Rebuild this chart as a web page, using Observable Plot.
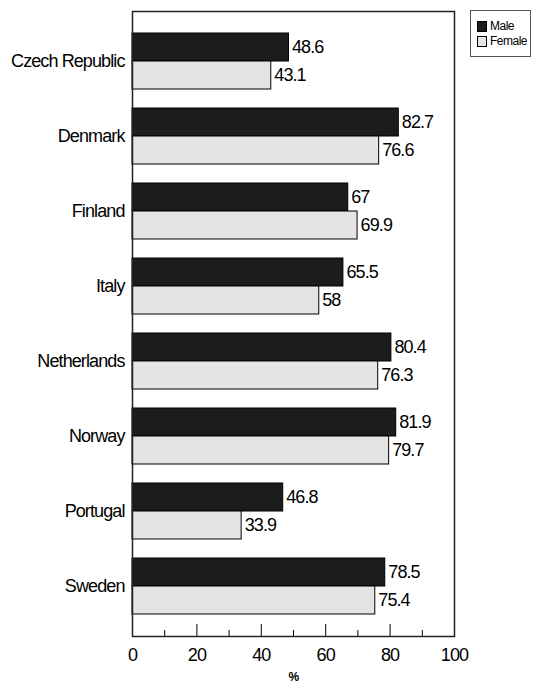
<!DOCTYPE html>
<html>
<head>
<meta charset="utf-8">
<script src="https://cdn.jsdelivr.net/npm/d3@7"></script>
<script src="https://cdn.jsdelivr.net/npm/@observablehq/plot@0.6"></script>
<style>
  html, body { margin: 0; padding: 0; background: #fff; }
  #wrap { position: relative; width: 533px; height: 683px; font-family: "Liberation Sans", Arial, sans-serif; }
  #chart svg text { letter-spacing: -0.9px; }
  #legend { position: absolute; left: 470px; top: 10px; width: 61px; height: 47px; border: 1px solid #555; box-sizing: border-box; background: #fff; font-size: 12px; letter-spacing: -0.5px; color: #000; }
  .li { position: absolute; left: 6px; display: flex; align-items: center; }
  .sw { width: 8px; height: 9px; border: 1px solid #000; margin-right: 3px; }
</style>
</head>
<body>
<div id="wrap">
  <div id="chart"></div>
  <div id="legend"></div>
</div>
<script>
const countries = ["Czech Republic", "Denmark", "Finland", "Italy", "Netherlands", "Norway", "Portugal", "Sweden"];
const male = [48.6, 82.7, 67, 65.5, 80.4, 81.9, 46.8, 78.5];
const female = [43.1, 76.6, 69.9, 58, 76.3, 79.7, 33.9, 75.4];
const series = ["Male", "Female"];
const seriesColors = ["#1c1c1c", "#e4e4e4"];
const majorTicks = [0, 20, 40, 60, 80, 100];
const minorTicks = [10, 30, 50, 70, 90];
const xLabel = "%";

const maleData = countries.map((c, i) => ({country: c, value: male[i]}));
const femaleData = countries.map((c, i) => ({country: c, value: female[i]}));

const font = "Liberation Sans, Arial, sans-serif";

const chart = Plot.plot({
  width: 533,
  height: 683,
  marginLeft: 132,
  marginRight: 79,
  marginTop: 11,
  marginBottom: 47,
  style: {fontFamily: font, fontSize: "18px", color: "#000", background: "#fff"},
  x: {domain: [0, 100]},
  y: {domain: countries, paddingInner: 0.255, paddingOuter: 0.286},
  marks: [
    Plot.barX(maleData, {x: "value", y: "country", fill: seriesColors[0], stroke: "#000", strokeWidth: 1, insetBottom: 28}),
    Plot.barX(femaleData, {x: "value", y: "country", fill: seriesColors[1], stroke: "#000", strokeWidth: 1, insetTop: 28}),
    Plot.text(maleData, {x: "value", y: "country", text: d => String(d.value), dx: 3, dy: -14, textAnchor: "start", fontSize: 18, fill: "#000"}),
    Plot.text(femaleData, {x: "value", y: "country", text: d => String(d.value), dx: 3, dy: 14, textAnchor: "start", fontSize: 18, fill: "#000"}),
    Plot.axisY({tickSize: 0, tickPadding: 8, label: null, fontSize: 18}),
    Plot.axisX({ticks: majorTicks, tickSize: 0, tickPadding: 12, label: null, fontSize: 18}),
    Plot.axisX({ticks: majorTicks, tickSize: -12, text: null, label: null, stroke: "#000"}),
    Plot.axisX({ticks: minorTicks, tickSize: -6, text: null, label: null, stroke: "#000"}),
    Plot.text([xLabel], {x: () => 50, frameAnchor: "bottom", dy: 44, text: d => d, fontSize: 12, fontWeight: "bold", fill: "#000"}),
    Plot.frame({stroke: "#222", strokeWidth: 1.5})
  ]
});
document.getElementById("chart").appendChild(chart);

const legend = document.getElementById("legend");
series.forEach((s, i) => {
  const row = document.createElement("div");
  row.className = "li";
  row.style.top = (i === 0 ? 8 : 23) + "px";
  const sw = document.createElement("div");
  sw.className = "sw";
  sw.style.background = seriesColors[i];
  const t = document.createElement("span");
  t.textContent = s;
  row.appendChild(sw);
  row.appendChild(t);
  legend.appendChild(row);
});
</script>
</body>
</html>
